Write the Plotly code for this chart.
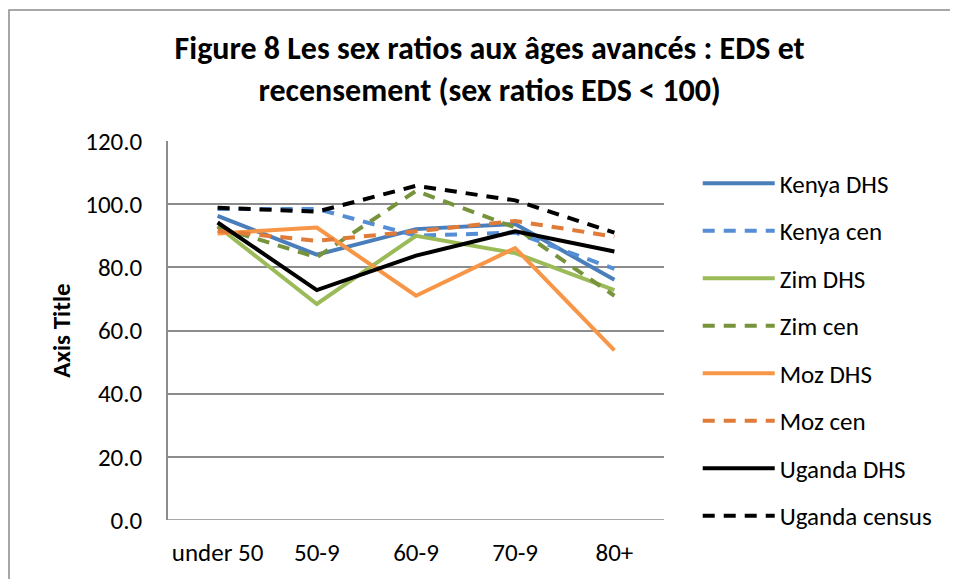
import plotly.graph_objects as go

categories = ["under 50", "50-9", "60-9", "70-9", "80+"]

kenya_dhs = [96.3, 84.0, 92.1, 93.7, 76.1]
kenya_cen = [98.5, 98.5, 90.0, 91.0, 79.5]
zim_dhs = [93.0, 68.4, 90.0, 84.5, 72.8]
zim_cen = [92.8, 83.2, 104.2, 92.6, 71.0]
moz_dhs = [90.7, 92.6, 71.0, 86.1, 53.7]
moz_cen = [91.6, 88.4, 91.4, 94.7, 89.7]
uganda_dhs = [94.2, 72.8, 83.7, 91.4, 85.0]
uganda_census = [98.9, 97.6, 105.8, 101.2, 91.0]

series = [
    ("Kenya DHS", kenya_dhs, "#4A7EBB", "solid"),
    ("Kenya cen", kenya_cen, "#558ED5", "12px,9px"),
    ("Zim DHS", zim_dhs, "#9BBB59", "solid"),
    ("Zim cen", zim_cen, "#77933C", "12px,9px"),
    ("Moz DHS", moz_dhs, "#F79646", "solid"),
    ("Moz cen", moz_cen, "#E07B39", "12px,9px"),
    ("Uganda DHS", uganda_dhs, "#000000", "solid"),
    ("Uganda census", uganda_census, "#000000", "12px,9px"),
]

font_family = "Carlito, Calibri, Lato, sans-serif"

fig = go.Figure()
for name, vals, col, dash in series:
    fig.add_trace(go.Scatter(
        x=categories, y=vals, name=name, mode="lines",
        legendgroup=name,
        line=dict(color=col, width=4, dash=dash),
    ))

# page body has an 8px margin, so the figure is sized to the visible area
fig.update_layout(
    width=950, height=571,
    paper_bgcolor="white", plot_bgcolor="white",
    margin=dict(l=160, r=294, t=133, b=59, autoexpand=False),
    font=dict(family=font_family, size=25, color="#000000"),
    title=dict(
        text="<b>Figure 8 Les sex ratios aux âges avancés : EDS et<br>recensement (sex ratios EDS < 100)</b>",
        x=0.507, xanchor="center", y=0.91, yanchor="middle",
        font=dict(size=32, family=font_family),
    ),
    showlegend=True,
    legend=dict(
        x=1.068, y=0.45, xanchor="left", yanchor="middle",
        font=dict(size=25), itemwidth=72, tracegroupgap=12,
        bgcolor="rgba(0,0,0,0)", maxheight=520,
    ),
    shapes=[dict(type="rect", xref="paper", yref="paper",
                 x0=-0.3206, x1=1.62, y0=-0.17, y1=1.3456,
                 line=dict(color="#8C8C8C", width=1.5))],
)

fig.update_xaxes(
    type="category",
    showgrid=False, showline=False, ticks="", zeroline=False,
    tickfont=dict(size=25), range=[-0.5, 4.5], ticklabelstandoff=15,
)
fig.update_yaxes(
    range=[0, 120], dtick=20, tickformat=".1f",
    showgrid=True, gridcolor="#8C8C8C", gridwidth=1.5,
    showline=True, linecolor="#8C8C8C", linewidth=1.5,
    zeroline=False, ticks="", tickfont=dict(size=25), ticklabelstandoff=19,
    title=dict(text="<b>Axis Title</b>", font=dict(size=25), standoff=8),
)
fig.add_hline(y=0, line=dict(color="#8C8C8C", width=1.5))

fig.write_html("out.html")
